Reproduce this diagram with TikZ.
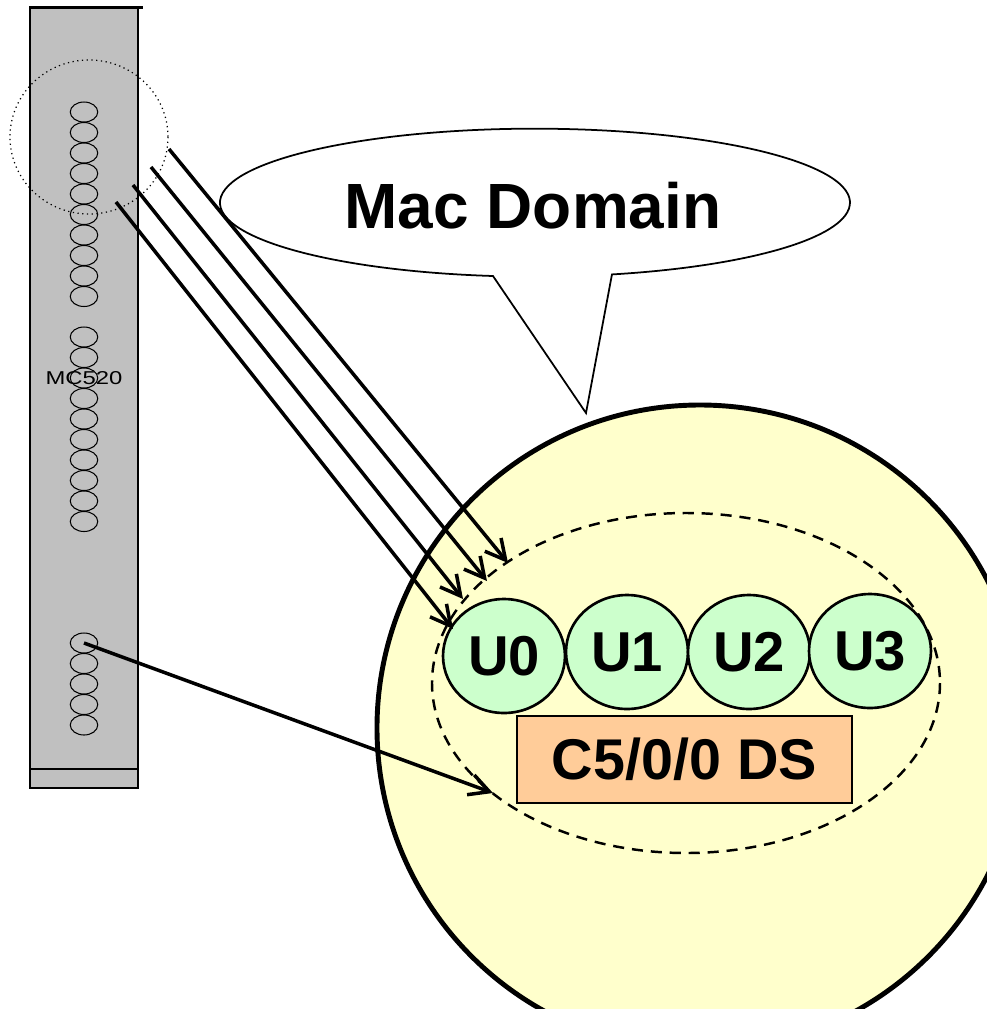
\documentclass[tikz,border=0pt]{standalone}
\usepackage{fontspec}
\setmainfont{Liberation Sans}
\newfontfamily\cardfont[FakeStretch=1.28]{Liberation Sans}
\usetikzlibrary{shapes.geometric, arrows.meta}
\definecolor{cardgray}{HTML}{C0C0C0}
\definecolor{domyellow}{HTML}{FFFFCC}
\definecolor{upgreen}{HTML}{CCFFCC}
\definecolor{dsorange}{HTML}{FFCC99}

\begin{document}
\begin{tikzpicture}[x=0.02cm, y=-0.02cm,
        port/.style={draw, ellipse, minimum width=0.55cm, minimum height=0.4cm, inner sep=0pt, line width=0.6pt},
        upnode/.style={draw, ellipse, fill=upgreen, line width=1.5pt, minimum width=2.44cm, minimum height=2.28cm, inner sep=0pt, font=\fontsize{32}{36}\selectfont\bfseries},
        link/.style={line width=2pt, -{Straight Barb[length=0.4cm, width=0.42cm, line width=2pt]}}]
    \clip (0,0) rectangle (987,1009);
    % callout
    \draw[line width=1pt, fill=white] (493,276) arc[start angle=97.66, end angle=435.85, x radius=315, y radius=74] -- (586,413) -- cycle;
    \node[font=\fontsize{36.4}{40}\selectfont\bfseries] (title) at (533,206) {Mac Domain};
    % mac domain
    \draw[line width=2.8pt, fill=domyellow] (700,728) circle[radius=323];
    \draw[line width=1.4pt, dash pattern=on 6.3pt off 4.5pt] (686,683) ellipse[x radius=254, y radius=170];
    \node[upnode] (u0) at (504,656) {U0};
    \node[upnode] (u1) at (627,652) {U1};
    \node[upnode] (u2) at (749,652) {U2};
    \node[upnode] (u3) at (870,651) {U3};
    \node[draw, fill=dsorange, line width=1.1pt, minimum width=6.7cm, minimum height=1.74cm, font=\fontsize{32.7}{36}\selectfont\bfseries] (ds) at (684.5,759.5) {C5/0/0 DS};
    % line card
    \draw[line width=0.6pt, fill=cardgray] (30,7) rectangle (138,769);
    \draw[line width=0.6pt, fill=cardgray] (30,769) rectangle (138,788);
    \draw[line width=1.7pt] (29,7) -- (143,7);
    \foreach \i in {0,...,9} {
        \node[port] (pa\i) at (84,{112+20.5*\i}) {};
        \node[port] (pb\i) at (84,{337+20.5*\i}) {};
    }
    \foreach \i in {0,...,4}
        \node[port] (pc\i) at (84,{643+20.5*\i}) {};
    \node[font=\cardfont\fontsize{10.6}{12}\selectfont] (card) at (84,378) {MC520};
    \draw[line width=0.7pt, dotted] (89,137) ellipse[x radius=79, y radius=77];
    % upstream links
    \coordinate (s0) at (116,202);
    \coordinate (s1) at (133,185);
    \coordinate (s2) at (151,167);
    \coordinate (s3) at (169,149);
    \coordinate (e0) at (453,629);
    \coordinate (e1) at (463,599);
    \coordinate (e2) at (487,581);
    \coordinate (e3) at (508,563);
    \coordinate (eds) at (493,793);
    \path[link]
        (s0) edge (e0)
        (s1) edge (e1)
        (s2) edge (e2)
        (s3) edge (e3)
        (pc0.center) edge (eds);
\end{tikzpicture}
\end{document}
